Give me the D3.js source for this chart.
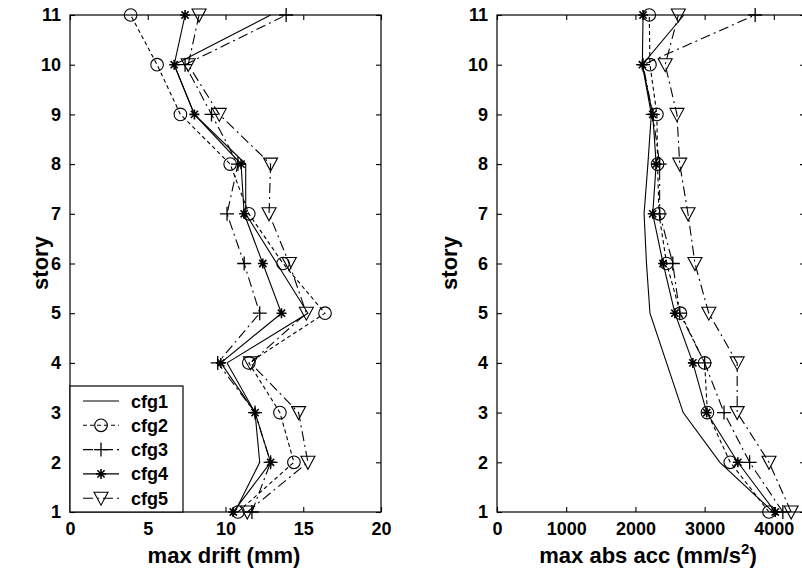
<!DOCTYPE html>
<html>
<head>
<meta charset="utf-8">
<script src="https://cdn.jsdelivr.net/npm/d3@7"></script>
<style>
body { margin: 0; background: #fff; }
text { font-family: "Liberation Sans", Arial, sans-serif; font-weight: bold; fill: #000; }
</style>
</head>
<body>
<div id="chart"></div>
<script>
var stories = [1, 2, 3, 4, 5, 6, 7, 8, 9, 10, 11];
var cfgNames = ["cfg1", "cfg2", "cfg3", "cfg4", "cfg5"];

// max drift (mm), story 1 .. 11
var driftCfg1 = [10.6, 12.2, 11.9, 10.1, 15.3, 13.3, 11.3, 11.3, 8.0, 6.7, 12.9];
var driftCfg2 = [10.8, 14.4, 13.5, 11.5, 16.4, 13.7, 11.5, 10.3, 7.1, 5.6, 3.9];
var driftCfg3 = [11.7, 12.9, 11.9, 9.5, 12.2, 11.2, 10.1, 10.8, 9.1, 7.4, 13.9];
var driftCfg4 = [10.5, 12.9, 11.9, 9.7, 13.6, 12.4, 11.2, 11.0, 8.0, 6.7, 7.4];
var driftCfg5 = [11.4, 15.3, 14.7, 11.6, 15.2, 14.1, 12.8, 12.9, 9.6, 7.6, 8.3];

// max abs acc (mm/s^2), story 1 .. 11
var accCfg1 = [3990, 3220, 2690, 2450, 2210, 2160, 2125, 2180, 2230, 2100, 2700];
var accCfg2 = [3930, 3370, 3040, 3000, 2650, 2450, 2340, 2320, 2310, 2210, 2200];
var accCfg3 = [4130, 3650, 3280, 3000, 2640, 2540, 2350, 2350, 2250, 2110, 3730];
var accCfg4 = [4020, 3480, 3030, 2830, 2570, 2400, 2250, 2300, 2250, 2100, 2110];
var accCfg5 = [4250, 3930, 3470, 3470, 3060, 2860, 2760, 2640, 2600, 2430, 2620];

var driftTicks = [0, 5, 10, 15, 20];
var accTicks = [0, 1000, 2000, 3000, 4000];

var lineStyles = ["none", "4,3", "10,4,2,4", "none", "10,4,2,4"];
var markers = ["none", "circle", "plus", "star", "triangle"];

var width = 802, height = 584;

var svg = d3.select("#chart").append("svg")
    .attr("width", width)
    .attr("height", height);

var y = d3.scaleLinear().domain([1, 11]).range([512, 15]);

function drawMarker(g, type, cx, cy) {
    if (type === "circle") {
        g.append("circle").attr("cx", cx).attr("cy", cy).attr("r", 6.3)
            .attr("fill", "none").attr("stroke", "#000").attr("stroke-width", 1.1);
    } else if (type === "plus") {
        g.append("path")
            .attr("d", "M" + (cx - 7) + "," + cy + "H" + (cx + 7) + "M" + cx + "," + (cy - 7) + "V" + (cy + 7))
            .attr("stroke", "#000").attr("stroke-width", 1.3);
    } else if (type === "star") {
        var s = 5, d = 3.6;
        g.append("path")
            .attr("d", "M" + (cx - s) + "," + cy + "H" + (cx + s) + "M" + cx + "," + (cy - s) + "V" + (cy + s) +
                "M" + (cx - d) + "," + (cy - d) + "L" + (cx + d) + "," + (cy + d) +
                "M" + (cx - d) + "," + (cy + d) + "L" + (cx + d) + "," + (cy - d))
            .attr("stroke", "#000").attr("stroke-width", 1.6);
    } else if (type === "triangle") {
        g.append("path")
            .attr("d", "M" + (cx - 7) + "," + (cy - 6) + "L" + (cx + 7) + "," + (cy - 6) + "L" + cx + "," + (cy + 7) + "Z")
            .attr("fill", "none").attr("stroke", "#000").attr("stroke-width", 1.1);
    }
}

function panel(x0, x1, domain, ticks, seriesList) {
    var x = d3.scaleLinear().domain(domain).range([x0, x1]);
    var g = svg.append("g");

    // frame
    g.append("rect")
        .attr("x", x0).attr("y", 15)
        .attr("width", x1 - x0).attr("height", 512 - 15)
        .attr("fill", "none").attr("stroke", "#000").attr("stroke-width", 1.2);

    // axes, ticks point inward
    var bottom = g.append("g").attr("transform", "translate(0,512)")
        .call(d3.axisBottom(x).tickValues(ticks).tickSize(-5).tickSizeOuter(0).tickFormat(d3.format("d")));
    bottom.selectAll("text").attr("y", 10).attr("dy", "0.71em").style("font-size", "18px");
    g.append("g").attr("transform", "translate(0,15)")
        .call(d3.axisTop(x).tickValues(ticks).tickSize(-5).tickSizeOuter(0).tickFormat(""));
    var left = g.append("g").attr("transform", "translate(" + x0 + ",0)")
        .call(d3.axisLeft(y).tickValues(stories).tickSize(-5).tickSizeOuter(0));
    left.selectAll("text").attr("x", -9).style("font-size", "18px");
    g.append("g").attr("transform", "translate(" + x1 + ",0)")
        .call(d3.axisRight(y).tickValues(stories).tickSize(-5).tickSizeOuter(0).tickFormat(""));
    g.selectAll(".domain").remove();
    g.selectAll(".tick line").attr("stroke-width", 1.1);

    var line = d3.line()
        .x(function(d) { return x(d.v); })
        .y(function(d) { return y(d.s); });

    seriesList.forEach(function(vals, k) {
        var pts = vals.map(function(v, i) { return { v: v, s: stories[i] }; });
        g.append("path")
            .datum(pts)
            .attr("d", line)
            .attr("fill", "none")
            .attr("stroke", "#000")
            .attr("stroke-width", 1.1)
            .attr("stroke-dasharray", lineStyles[k] === "none" ? null : lineStyles[k]);
        pts.forEach(function(p) {
            drawMarker(g, markers[k], x(p.v), y(p.s));
        });
    });

    var lab = g.append("text")
        .attr("y", 563)
        .attr("text-anchor", "middle")
        .style("font-size", "22px");
    return { g: g, x: x, label: lab };
}

var p1 = panel(70, 381, [0, 20], driftTicks,
    [driftCfg1, driftCfg2, driftCfg3, driftCfg4, driftCfg5]);
p1.label.attr("x", 224).text("max drift (mm)");

var p2 = panel(497, 805, [0, 4450], accTicks,
    [accCfg1, accCfg2, accCfg3, accCfg4, accCfg5]);
p2.label.attr("x", 648).text("max abs acc (mm/s");
p2.label.append("tspan").attr("dy", -9).style("font-size", "15px").text("2");
p2.label.append("tspan").attr("dy", 9).text(")");

[40, 449].forEach(function(cx) {
    svg.append("text")
        .attr("transform", "translate(" + cx + ",263) rotate(-90)")
        .attr("text-anchor", "middle")
        .attr("dy", "0.35em")
        .style("font-size", "22px")
        .text("story");
});

// legend
var leg = svg.append("g");
leg.append("rect")
    .attr("x", 70).attr("y", 386).attr("width", 113).attr("height", 126)
    .attr("fill", "#fff").attr("stroke", "#000").attr("stroke-width", 1.2);
cfgNames.forEach(function(name, k) {
    var ry = 401 + k * 24.3;
    leg.append("line")
        .attr("x1", 83).attr("x2", 119).attr("y1", ry).attr("y2", ry)
        .attr("stroke", "#000").attr("stroke-width", 1.1)
        .attr("stroke-dasharray", lineStyles[k] === "none" ? null : lineStyles[k]);
    drawMarker(leg, markers[k], 101, ry);
    leg.append("text")
        .attr("x", 131).attr("y", ry + 6.5)
        .style("font-size", "18px")
        .text(name);
});
</script>
</body>
</html>
